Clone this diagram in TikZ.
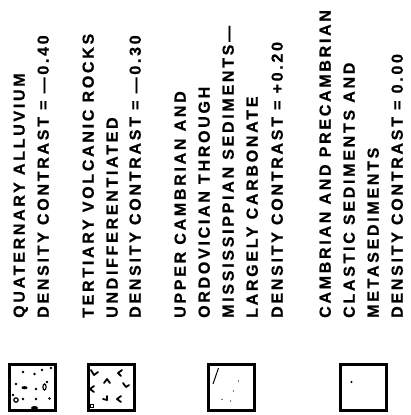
\documentclass[tikz,border=0pt]{standalone}
\usepackage{fontspec}
\newfontfamily\legendfont{Liberation Sans}[LetterSpace=17,FakeBold=0.8]

\begin{document}
\begin{tikzpicture}[x=1pt,y=-1pt,
    lgd/.style={rotate=90,anchor=base west,inner sep=0pt,
      font=\legendfont\bfseries\fontsize{16}{16}\selectfont},
    swatch/.style={draw,line width=3pt,minimum size=46pt,inner sep=0pt},
    vsign/.style={line width=1.8pt,line cap=round,line join=round}]
        \useasboundingbox (0,0) rectangle (411,415);
        \foreach \x / \txt [count=\i] in {19/QUATERNARY ALLUVIUM,
            43/DENSITY CONTRAST = —0.40,
            88/TERTIARY VOLCANIC ROCKS,
            112/UNDIFFERENTIATED,
            135/DENSITY CONTRAST = —0.30,
            180/UPPER CAMBRIAN AND,
            204/ORDOVICIAN THROUGH,
            228/MISSISSIPPIAN SEDIMENTS—,
            252/LARGELY CARBONATE,
            277/DENSITY CONTRAST = +0.20,
            325/CAMBRIAN AND PRECAMBRIAN,
            349/CLASTIC SEDIMENTS AND,
            373/METASEDIMENTS,
            397/DENSITY CONTRAST = 0.00} {
            \node[lgd] (row\i) at ({\x+5.7},318) {\txt};
        };
        \foreach \x / \nm in {32/qal,111/tv,231.5/carb,363/clas}
            \node[swatch] (\nm) at (\x,387) {};
        \begin{scope}[shift={(qal.center)}]
            \foreach \p in {(-9,-15),(2.5,-13),(-16,-3),(4,2),(-9,12),(4,12),(17.5,11.5),(15,-5),(19,-19),(-19,8),(10,-17)}
                \fill \p circle (1.4pt);
            \fill (-7.5,0.7) ellipse (3pt and 1.6pt);
            \fill (2.5,21) ellipse (3.5pt and 2pt);
            \draw[line width=1.2pt] (12.5,0) ellipse (1.6pt and 3pt);
            \draw[line width=1.2pt] (-16,13) circle (2.2pt);
        \end{scope}
        \begin{scope}[shift={(tv.center)}]
            \draw[vsign] (-20,-17) -- (-17,-12) -- (-13,-15);
            \draw[vsign] (-7,-4) -- (-4,-8) -- (-1,-4);
            \draw[vsign] (11,-17) -- (7,-14) -- (10,-11);
            \draw[vsign] (12,-4) -- (15,0) -- (18,-2);
            \draw[vsign] (-17,-1) -- (-21,2) -- (-17,5);
            \draw[vsign] (-8,12) -- (-4,13) -- (-4,9);
            \draw[vsign] (10,9) -- (6,12) -- (10,15);
            \draw[line width=1pt] (-21,17) rectangle (-18,20);
        \end{scope}
        \begin{scope}[shift={(carb.center)}]
            \draw[line width=1pt] (-13,-19) -- (-18.5,-3);
            \foreach \p in {(7,-6),(2,4),(-9.5,12.5),(-1,14)}
                \fill \p circle (0.7pt);
        \end{scope}
        \fill ([shift={(-11.5,-5)}]clas.center) circle (1.2pt);
    \end{tikzpicture}
\end{document}
